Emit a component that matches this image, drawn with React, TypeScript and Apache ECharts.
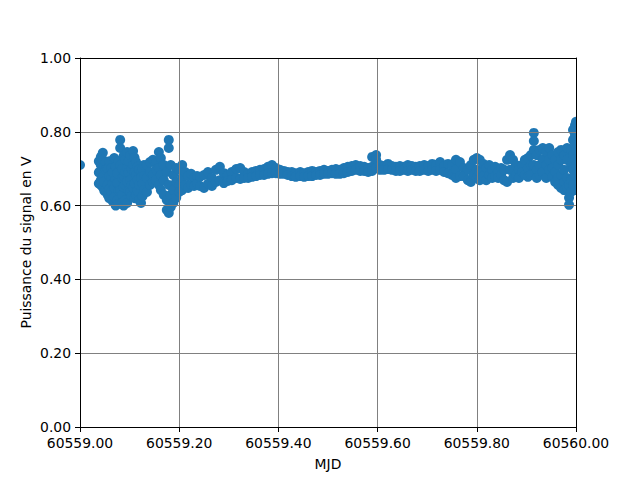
import React, { useEffect, useRef } from "react";
import * as echarts from "echarts";

const MJD_BASE = 60559;
const X_TICK_STEP = 0.2;
const Y_TICK_STEP = 0.2;
const X_LABEL = "MJD";
const Y_LABEL = "Puissance du signal en V";

// [fraction of day after MJD_BASE, signal values (V) observed around that time]
const burstStart: [number, number[]][] = [
  [0.000, [0.710]],
  [0.038, [0.720, 0.690, 0.660]],
  [0.042, [0.732, 0.710, 0.691, 0.669, 0.656]],
  [0.046, [0.743, 0.724, 0.678, 0.650]],
  [0.049, [0.705, 0.665, 0.640]],
  [0.052, [0.718, 0.697, 0.642]],
  [0.056, [0.700, 0.656, 0.629]],
  [0.059, [0.720, 0.680, 0.645, 0.620]],
  [0.063, [0.702, 0.675, 0.637]],
  [0.066, [0.690, 0.660, 0.612]],
  [0.069, [0.729, 0.648, 0.623]],
  [0.072, [0.705, 0.670, 0.600]],
  [0.075, [0.688, 0.661, 0.615]],
  [0.078, [0.720, 0.640, 0.605]],
  [0.081, [0.778, 0.756, 0.710, 0.642]],
  [0.085, [0.700, 0.675, 0.629, 0.607]],
  [0.088, [0.735, 0.680, 0.650, 0.600]],
  [0.091, [0.724, 0.691, 0.656, 0.615]],
  [0.095, [0.745, 0.702, 0.665, 0.607]],
  [0.098, [0.720, 0.690, 0.640]],
  [0.101, [0.737, 0.669, 0.637]],
  [0.104, [0.700, 0.655, 0.625]],
  [0.107, [0.748, 0.710, 0.648]],
  [0.110, [0.730, 0.690, 0.660, 0.620]],
  [0.113, [0.718, 0.683, 0.629]],
  [0.116, [0.705, 0.670, 0.640]],
  [0.119, [0.697, 0.656, 0.615]],
  [0.123, [0.690, 0.675, 0.607]],
  [0.126, [0.700, 0.660, 0.625]],
  [0.129, [0.710, 0.680, 0.642]],
  [0.135, [0.710, 0.675, 0.637]],
  [0.141, [0.718, 0.691, 0.656]],
  [0.147, [0.724, 0.683, 0.664]],
  [0.153, [0.715, 0.697, 0.669]],
  [0.159, [0.745, 0.702, 0.656]],
  [0.163, [0.729, 0.683, 0.642]],
  [0.169, [0.710, 0.669, 0.629]],
  [0.175, [0.691, 0.615, 0.588]],
  [0.179, [0.778, 0.756, 0.656, 0.580]],
  [0.183, [0.710, 0.629, 0.596]],
  [0.188, [0.683, 0.607, 0.642]],
  [0.194, [0.702, 0.664, 0.621]],
  [0.200, [0.697, 0.656, 0.637]],
  [0.206, [0.710, 0.675, 0.642]],
  [0.212, [0.691, 0.656]],
  [0.218, [0.680, 0.648]],
  [0.224, [0.686, 0.656]],
  [0.230, [0.675, 0.653]],
  [0.236, [0.680, 0.659]],
];

const steadyBand: [number, number[]][] = [
  [0.242, [0.678, 0.653]],
  [0.250, [0.683, 0.648]],
  [0.258, [0.691, 0.659]],
  [0.266, [0.675, 0.653]],
  [0.274, [0.697, 0.664]],
  [0.282, [0.705, 0.669]],
  [0.290, [0.688, 0.661]],
  [0.298, [0.683, 0.667]],
  [0.306, [0.691, 0.669]],
  [0.315, [0.699, 0.675]],
  [0.323, [0.702, 0.672]],
  [0.331, [0.691, 0.675]],
  [0.339, [0.686, 0.675]],
  [0.347, [0.691, 0.678]],
  [0.355, [0.694, 0.680]],
  [0.363, [0.697, 0.683]],
  [0.371, [0.699, 0.683]],
  [0.379, [0.705, 0.686]],
  [0.387, [0.710, 0.688]],
  [0.395, [0.702, 0.688]],
  [0.403, [0.697, 0.686]],
  [0.411, [0.694, 0.686]],
  [0.419, [0.691, 0.683]],
  [0.427, [0.691, 0.680]],
  [0.435, [0.688, 0.678]],
  [0.444, [0.691, 0.680]],
  [0.452, [0.688, 0.678]],
  [0.460, [0.691, 0.680]],
  [0.468, [0.694, 0.680]],
  [0.476, [0.691, 0.683]],
  [0.484, [0.694, 0.683]],
  [0.492, [0.697, 0.686]],
  [0.500, [0.694, 0.686]],
  [0.508, [0.697, 0.688]],
  [0.516, [0.699, 0.686]],
  [0.524, [0.697, 0.686]],
  [0.532, [0.702, 0.688]],
  [0.540, [0.705, 0.691]],
  [0.548, [0.707, 0.694]],
  [0.556, [0.710, 0.697]],
  [0.565, [0.707, 0.694]],
  [0.573, [0.705, 0.694]],
  [0.581, [0.702, 0.691]],
  [0.589, [0.732, 0.705, 0.694]],
  [0.597, [0.737, 0.724, 0.702]],
  [0.605, [0.710, 0.697]],
  [0.613, [0.707, 0.697]],
  [0.621, [0.713, 0.699]],
  [0.629, [0.707, 0.697]],
  [0.637, [0.705, 0.694]],
  [0.645, [0.707, 0.694]],
  [0.653, [0.705, 0.697]],
  [0.661, [0.710, 0.694]],
  [0.669, [0.707, 0.697]],
  [0.677, [0.705, 0.694]],
  [0.685, [0.707, 0.694]],
  [0.694, [0.710, 0.697]],
  [0.702, [0.707, 0.694]],
  [0.710, [0.713, 0.697]],
  [0.718, [0.710, 0.694]],
  [0.726, [0.718, 0.697]],
  [0.734, [0.707, 0.691]],
  [0.742, [0.713, 0.688]],
  [0.750, [0.710, 0.683]],
  [0.758, [0.724, 0.697, 0.675]],
  [0.766, [0.718, 0.680]],
  [0.774, [0.702, 0.680]],
  [0.782, [0.697, 0.669]],
  [0.788, [0.710, 0.664]],
  [0.794, [0.724, 0.683]],
  [0.800, [0.729, 0.697, 0.675]],
  [0.806, [0.724, 0.691, 0.669]],
];

const burstEnd: [number, number[]][] = [
  [0.813, [0.713, 0.680]],
  [0.819, [0.702, 0.669]],
  [0.825, [0.710, 0.683]],
  [0.831, [0.697, 0.675]],
  [0.837, [0.705, 0.680]],
  [0.843, [0.691, 0.675]],
  [0.849, [0.702, 0.683]],
  [0.855, [0.697, 0.669]],
  [0.861, [0.724, 0.664]],
  [0.867, [0.737, 0.697]],
  [0.873, [0.724, 0.675]],
  [0.879, [0.710, 0.683]],
  [0.885, [0.697, 0.675]],
  [0.891, [0.710, 0.691]],
  [0.897, [0.724, 0.683]],
  [0.903, [0.729, 0.702, 0.678]],
  [0.909, [0.737, 0.710, 0.683]],
  [0.915, [0.797, 0.775, 0.751, 0.710]],
  [0.921, [0.737, 0.697, 0.675]],
  [0.927, [0.751, 0.710, 0.683]],
  [0.933, [0.756, 0.724, 0.691]],
  [0.940, [0.745, 0.710, 0.675]],
  [0.946, [0.756, 0.724, 0.697]],
  [0.952, [0.737, 0.702, 0.678]],
  [0.958, [0.724, 0.691, 0.664]],
  [0.964, [0.745, 0.710, 0.675, 0.656]],
  [0.970, [0.751, 0.724, 0.683, 0.648]],
  [0.976, [0.737, 0.697, 0.664, 0.642]],
  [0.982, [0.756, 0.724, 0.675, 0.648]],
  [0.986, [0.656, 0.621, 0.602]],
  [0.990, [0.751, 0.710, 0.669, 0.637]],
  [0.994, [0.805, 0.778, 0.737, 0.697, 0.656]],
  [0.998, [0.818, 0.791, 0.764, 0.724, 0.683, 0.642]],
  [1.000, [0.827, 0.751, 0.710]],
];

const FONT = "'DejaVu Sans', sans-serif";

export default function App() {
  const ref = useRef<HTMLDivElement>(null);

  useEffect(() => {
    if (!ref.current) return;
    const chart = echarts.init(ref.current, null, { renderer: "svg" });

    const points: number[][] = [];
    [...burstStart, ...steadyBand, ...burstEnd].forEach(([frac, vals]) => {
      vals.forEach((v) => points.push([MJD_BASE + frac, v]));
    });

    const L = 80, T = 58, R = 576, B = 427;
    const W = 640, H = 480;

    const labelStyle = {
      color: "#000",
      fontSize: 13.9,
      fontFamily: FONT,
    };

    chart.setOption({
      animation: false,
      backgroundColor: "#ffffff",
      textStyle: { fontFamily: FONT },
      grid: { left: L, top: T, right: W - R, bottom: H - B, containLabel: false },
      xAxis: [
        {
          type: "value",
          min: MJD_BASE,
          max: MJD_BASE + 1,
          interval: X_TICK_STEP,
          z: 100,
          name: X_LABEL,
          nameLocation: "middle",
          nameGap: 30,
          nameTextStyle: { color: "#000", fontSize: 13.9, fontFamily: FONT },
          axisLine: { show: true, lineStyle: { color: "#000", width: 1 } },
          axisTick: { show: true, length: 5, lineStyle: { color: "#000" } },
          axisLabel: {
            ...labelStyle,
            margin: 9,
            showMinLabel: true,
            showMaxLabel: true,
            formatter: (v: number) => v.toFixed(2),
          },
          splitLine: { show: true, lineStyle: { color: "#808080", width: 1 } },
        },
        {
          type: "value",
          position: "top",
          min: MJD_BASE,
          max: MJD_BASE + 1,
          interval: X_TICK_STEP,
          z: 101,
          axisLine: { show: true, onZero: false, lineStyle: { color: "#000", width: 1 } },
          axisTick: { show: false },
          axisLabel: { show: false },
          splitLine: { show: false },
        },
      ],
      yAxis: [
        {
          type: "value",
          min: 0,
          max: 1,
          interval: Y_TICK_STEP,
          z: 100,
          axisLine: { show: true, lineStyle: { color: "#000", width: 1 } },
          axisTick: { show: true, length: 5, lineStyle: { color: "#000" } },
          axisLabel: {
            ...labelStyle,
            margin: 9,
            formatter: (v: number) => v.toFixed(2),
          },
          splitLine: { show: true, lineStyle: { color: "#808080", width: 1 } },
        },
        {
          type: "value",
          position: "right",
          min: 0,
          max: 1,
          interval: Y_TICK_STEP,
          z: 101,
          axisLine: { show: true, onZero: false, lineStyle: { color: "#000", width: 1 } },
          axisTick: { show: false },
          axisLabel: { show: false },
          splitLine: { show: false },
        },
      ],
      series: [
        {
          type: "scatter",
          xAxisIndex: 0,
          yAxisIndex: 0,
          z: 0,
          clip: false,
          symbol: "circle",
          symbolSize: 10,
          itemStyle: { color: "#1f77b4", opacity: 1 },
          data: points,
        },
        {
          // white masks outside the plot box (emulating marker clipping) and the y-axis title
          type: "custom",
          xAxisIndex: 0,
          yAxisIndex: 0,
          z: 10,
          silent: true,
          clip: false,
          data: [[MJD_BASE + 0.5, 0.5]],
          renderItem: () => ({
            type: "group",
            children: [
              { type: "rect", z2: 100, shape: { x: 0, y: 0, width: L, height: H }, style: { fill: "#ffffff" } },
              { type: "rect", z2: 100, shape: { x: R + 1, y: 0, width: W - R, height: H }, style: { fill: "#ffffff" } },
              { type: "rect", z2: 100, shape: { x: 0, y: 0, width: W, height: T }, style: { fill: "#ffffff" } },
              { type: "rect", z2: 100, shape: { x: 0, y: B + 1, width: W, height: H - B }, style: { fill: "#ffffff" } },
              {
                type: "text",
                z2: 101,
                x: 26,
                y: (T + B) / 2,
                rotation: Math.PI / 2,
                style: {
                  text: Y_LABEL,
                  fill: "#000000",
                  fontSize: 13.9,
                  fontFamily: FONT,
                  align: "center",
                  verticalAlign: "middle",
                },
              },
            ],
          }),
        },
      ],
    });

    return () => chart.dispose();
  }, []);

  return (
    <div
      ref={ref}
      style={{ position: "fixed", left: 0, top: 0, width: 640, height: 480 }}
    />
  );
}
